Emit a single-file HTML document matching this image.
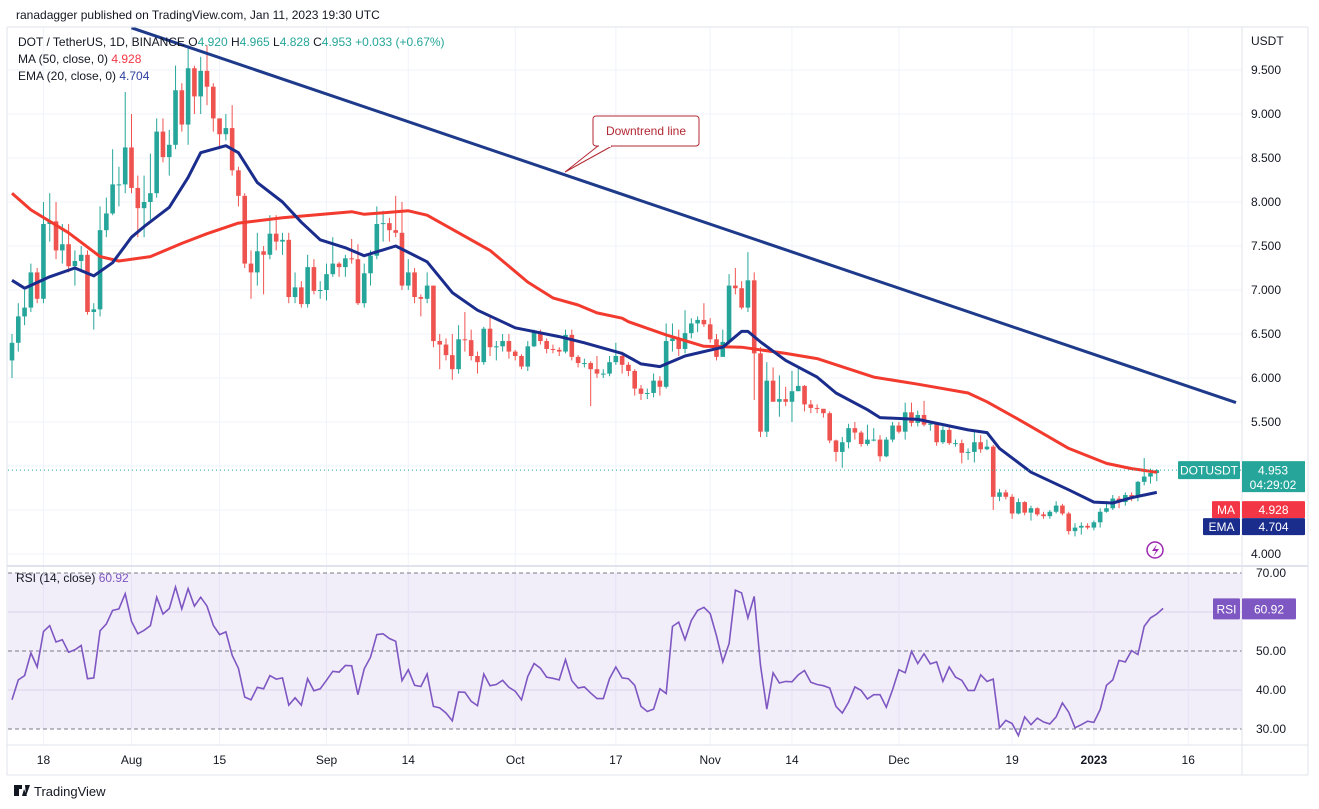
<!DOCTYPE html>
<html><head><meta charset="utf-8">
<style>
body{margin:0;background:#fff;font-family:"Liberation Sans",sans-serif;}
#wrap{position:relative;width:1319px;height:809px;overflow:hidden;background:#fff;}
svg text{font-family:"Liberation Sans",sans-serif;}
</style></head>
<body>
<div id="wrap">
<svg id="svg" width="1319" height="809" xmlns="http://www.w3.org/2000/svg">
  <rect x="0" y="0" width="1319" height="809" fill="#fff"/>
  <g id="grid"></g>
  <rect x="8" y="573" width="1234" height="156" fill="#7e57c2" fill-opacity="0.1"/>
  <g id="rsiGuides"></g>
  <g id="candles"></g>
  <g id="lines"></g>
  <g id="axes"></g>
  <line x1="7" y1="27" x2="1308" y2="27" stroke="#e0e3eb"/>
  <line x1="7" y1="27" x2="7" y2="775" stroke="#e0e3eb"/>
  <line x1="1308" y1="27" x2="1308" y2="775" stroke="#e0e3eb"/>
  <line x1="1242" y1="27" x2="1242" y2="775" stroke="#e0e3eb"/>
  <line x1="7" y1="566" x2="1308" y2="566" stroke="#e0e3eb" stroke-width="2"/>
  <line x1="7" y1="745" x2="1308" y2="745" stroke="#e0e3eb"/>
  <line x1="7" y1="775" x2="1308" y2="775" stroke="#e0e3eb"/>
  <text x="16" y="19" font-size="12" fill="#131722">ranadagger published on TradingView.com, Jan 11, 2023 19:30 UTC</text>
  <g>
    <text x="18" y="46" font-size="12" fill="#131722">DOT / TetherUS, 1D, BINANCE  <tspan fill="#131722">O</tspan><tspan fill="#26a69a">4.920</tspan>  <tspan fill="#131722">H</tspan><tspan fill="#26a69a">4.965</tspan>  <tspan fill="#131722">L</tspan><tspan fill="#26a69a">4.828</tspan>  <tspan fill="#131722">C</tspan><tspan fill="#26a69a">4.953 +0.033 (+0.67%)</tspan></text>
    <text x="18" y="63" font-size="12" fill="#131722">MA (50, close, 0)  <tspan fill="#f23645">4.928</tspan></text>
    <text x="18" y="80" font-size="12" fill="#131722">EMA (20, close, 0)  <tspan fill="#2c3e9e">4.704</tspan></text>
  </g>
  <text x="1251" y="45" font-size="12" fill="#131722">USDT</text>
  <text x="16" y="582" font-size="12" fill="#131722">RSI (14, close)  <tspan fill="#7e57c2">60.92</tspan></text>
  <g>
    <path d="M598,146 L565,172 L612,146" fill="#fff" stroke="#b22833" stroke-width="1"/>
    <rect x="593" y="116" width="106" height="30" rx="3" fill="#fff" stroke="#b22833"/>
    <line x1="599" y1="146" x2="611" y2="146" stroke="#fff" stroke-width="2"/>
    <text x="646" y="135" font-size="12" fill="#b22833" text-anchor="middle">Downtrend line</text>
  </g>
  <g>
    <circle cx="1155" cy="550" r="8" fill="#fff" stroke="#9c27b0" stroke-width="1.5"/>
    <path d="M1157,544 L1152,551 L1156,551 L1153,557 L1159,549 L1155,549 Z" fill="#9c27b0"/>
  </g>
  <g id="labels"></g>
  <g>
    <path d="M14,785 h8 v4 h-3 v7 h-5 z M24,789 l3,7 h-5 z M25,785 l5,0 l-4,11 z" fill="#131722"/>
    <text x="34" y="796" font-size="13" fill="#131722">TradingView</text>
  </g>
</svg>
</div>
<script>
const closes = [6.40,6.70,6.80,7.20,6.90,7.75,7.78,7.45,7.52,7.27,
7.33,7.40,6.75,6.78,7.68,7.87,8.20,8.20,8.62,8.16,
7.93,8.00,8.10,8.80,8.51,8.65,9.27,8.88,9.52,9.20,
9.49,9.31,8.95,8.77,8.84,8.36,8.07,7.30,7.20,7.44,
7.40,7.64,7.55,7.57,6.92,7.03,6.84,7.26,6.99,7.00,
7.18,7.30,7.26,7.36,7.35,6.85,7.19,7.39,7.75,7.76,
7.68,7.65,7.05,7.20,6.92,6.90,7.05,6.42,6.38,6.26,
6.10,6.44,6.43,6.25,6.18,6.56,6.35,6.36,6.42,6.30,
6.25,6.13,6.36,6.52,6.42,6.33,6.32,6.30,6.49,6.24,
6.17,6.17,6.10,6.05,6.05,6.18,6.25,6.15,6.08,5.88,
5.82,5.83,5.97,5.90,6.42,6.45,6.33,6.51,6.62,6.66,
6.61,6.44,6.24,6.41,7.05,7.02,6.80,7.11,6.28,5.39,
5.97,5.73,5.76,5.73,5.85,5.91,5.70,5.66,5.65,5.60,
5.29,5.16,5.27,5.43,5.38,5.25,5.30,5.30,5.11,5.30,
5.46,5.39,5.61,5.49,5.58,5.47,5.48,5.27,5.41,5.26,
5.26,5.15,5.16,5.27,5.19,5.22,4.65,4.70,4.65,4.46,
4.59,4.47,4.52,4.45,4.43,4.48,4.55,4.46,4.26,4.30,
4.32,4.30,4.36,4.48,4.52,4.63,4.59,4.67,4.65,4.82,
4.88,4.92,4.953];
const highs = [6.5,6.85,7.0,7.3,7.25,8.0,8.1,8.0,7.75,7.75,
7.45,7.5,7.45,6.85,7.95,8.05,8.6,8.4,9.25,9.0,
8.3,8.3,8.55,8.95,8.95,8.82,9.55,9.35,9.78,9.55,
9.65,9.78,9.35,8.95,9.0,9.1,8.4,8.1,7.45,7.65,
7.5,7.85,7.85,7.65,7.65,7.2,7.1,7.4,7.35,7.1,
7.3,7.6,7.32,7.4,7.58,7.52,7.3,7.45,7.95,7.9,
7.82,8.07,8.0,7.35,7.25,6.95,7.2,7.05,6.5,6.45,
6.5,6.6,6.75,6.55,6.3,6.58,6.7,6.42,6.5,6.5,
6.32,6.27,6.42,6.55,6.55,6.45,6.38,6.35,6.55,6.55,
6.26,6.22,6.19,6.25,6.1,6.25,6.4,6.3,6.18,6.1,
5.92,5.88,6.05,6.02,6.62,6.62,6.55,6.77,6.68,6.7,
6.85,6.68,6.5,6.55,7.18,7.25,7.1,7.43,7.2,6.35,
6.18,6.12,6.03,5.9,6.08,6.12,5.92,5.75,5.7,5.65,
5.62,5.3,5.33,5.48,5.5,5.4,5.47,5.43,5.35,5.33,
5.5,5.5,5.72,5.72,5.63,5.74,5.5,5.5,5.45,5.47,
5.3,5.3,5.2,5.4,5.35,5.3,5.24,4.74,4.73,4.68,
4.63,4.6,4.55,4.53,4.48,4.5,4.6,4.57,4.48,4.35,
4.36,4.35,4.38,4.52,4.6,4.67,4.66,4.7,4.7,4.83,
5.09,4.97,4.965];
const lows = [6.0,6.3,6.6,6.75,6.85,6.85,7.55,7.35,7.3,7.2,
7.05,7.2,6.72,6.55,6.7,7.6,7.85,7.95,8.1,8.1,
7.6,7.6,7.8,8.05,8.45,8.3,8.6,8.8,8.65,9.0,
9.0,9.1,8.8,8.6,8.7,8.3,7.95,7.25,6.9,7.05,
6.95,7.35,7.45,7.4,6.85,6.85,6.8,6.8,6.95,6.9,
6.88,7.15,7.15,7.15,7.3,6.83,6.8,7.05,7.35,7.55,
7.55,7.6,7.0,7.0,6.85,6.7,6.85,6.35,6.1,6.2,
5.98,6.05,6.3,6.2,6.05,6.15,6.25,6.2,6.3,6.22,
6.2,6.1,6.08,6.35,6.38,6.28,6.28,6.25,6.28,6.2,
6.12,6.12,5.68,6.0,6.0,6.02,6.15,6.05,6.02,5.8,
5.75,5.76,5.78,5.8,5.88,6.3,6.25,6.28,6.45,6.52,
6.58,6.4,6.2,6.28,6.38,6.95,6.78,6.75,5.75,5.33,
5.33,5.73,5.56,5.68,5.5,5.85,5.62,5.6,5.6,5.55,
5.26,5.05,4.98,5.2,5.3,5.22,5.23,5.28,5.05,5.1,
5.27,5.37,5.3,5.45,5.45,5.45,5.4,5.23,5.25,5.24,
5.22,5.03,5.07,5.04,5.15,5.18,4.5,4.6,4.62,4.4,
4.45,4.44,4.38,4.43,4.4,4.4,4.46,4.44,4.22,4.2,
4.22,4.28,4.27,4.3,4.47,4.5,4.52,4.55,4.6,4.6,
4.78,4.8,4.828];
const firstOpen = 6.20;
const emaPts = [[0,7.11],[2,7.02],[6,7.15],[10,7.25],[13,7.16],[16,7.31],[19,7.6],[21,7.72],[25,7.94],[28,8.28],[30,8.56],[34,8.64],[36,8.56],[39,8.22],[43,8.0],[46,7.77],[49,7.57],[53,7.48],[56,7.39],[61,7.5],[66,7.32],[70,6.97],[74,6.77],[80,6.57],[87,6.47],[91,6.4],[97,6.28],[100,6.16],[103,6.13],[107,6.25],[113,6.35],[116,6.53],[117,6.53],[119,6.41],[123,6.2],[128,6.01],[131,5.83],[136,5.64],[138,5.55],[144,5.53],[152,5.41],[155,5.38],[157,5.2],[162,4.93],[168,4.73],[172,4.59],[175,4.58],[178,4.64],[182,4.70]];
const maPts = [[0,8.10],[3,7.91],[9,7.65],[14,7.38],[17,7.33],[22,7.38],[27,7.53],[31,7.64],[36,7.76],[43,7.82],[54,7.89],[56,7.86],[63,7.9],[66,7.85],[71,7.65],[76,7.45],[82,7.09],[86,6.91],[90,6.83],[93,6.74],[97,6.68],[98,6.64],[104,6.49],[110,6.36],[116,6.35],[123,6.28],[128,6.22],[137,6.01],[144,5.93],[152,5.83],[155,5.73],[161,5.49],[168,5.2],[174,5.03],[178,4.97],[182,4.928]];
const trendPts = [[19,9.98],[194.6,5.72]];
const rsiVals = [37.5,42.6,43.7,49.5,45.9,55.0,56.5,52.3,52.9,49.7,
50.3,51.4,42.9,43.1,55.2,56.9,60.4,60.8,64.7,57.6,
54.4,55.3,56.5,63.8,59.5,60.9,66.4,60.8,66.0,61.5,
63.8,61.5,56.6,54.2,54.9,48.9,45.6,38.2,37.5,40.7,
40.3,43.7,42.8,43.1,36.1,38.0,36.1,42.9,39.8,40.3,
42.5,44.8,44.6,46.3,46.2,38.8,45.4,48.4,54.2,54.4,
53.2,52.5,42.4,45.2,41.2,40.9,44.1,35.8,35.4,34.1,
32.1,39.5,39.4,37.1,36.0,44.1,41.1,41.4,42.5,40.7,
39.7,37.5,43.5,46.8,45.6,43.3,43.0,42.6,47.8,42.4,
40.5,40.8,39.2,37.8,37.8,42.9,45.9,43.1,
42.9,41.2,35.8,34.5,35.1,40.3,39.1,56.3,57.4,52.9,
57.8,60.4,61.2,59.6,53.9,47.2,51.9,65.6,64.9,58.5,
64.0,46.3,35.1,44.4,41.8,42.2,42.1,43.9,45.0,42.0,
41.4,41.1,40.5,35.8,34.1,36.9,40.8,39.9,37.7,38.8,
38.8,35.6,40.1,45.2,44.4,49.9,46.8,49.3,46.7,47.2,
42.2,45.9,43.3,42.5,39.9,39.9,43.9,42.2,42.8,30.3,
32.2,31.4,28.3,33.1,31.1,32.8,31.8,31.3,33.1,36.7,
34.3,30.3,31.1,32.0,31.7,35.0,41.2,42.6,47.6,47.2,
50.1,49.1,56.3,58.5,59.5,60.92];
const priceTicks = [9.5,9.0,8.5,8.0,7.5,7.0,6.5,6.0,5.5,5.0,4.5,4.0];
const priceTickLabels = ["9.500","9.000","8.500","8.000","7.500","7.000","6.500","6.000","5.500","5.000","4.500","4.000"];
const rsiTicks = [70,50,40,30];
const rsiTickLabels = ["70.00","50.00","40.00","30.00"];
const dateIdx = [5,19,33,50,63,80,96,111,124,141,159,172,187];
const dateLabels = ["18","Aug","15","Sep","14","Oct","17","Nov","14","Dec","19","2023","16"];
const lastClose = 4.953, lastMA = 4.928, lastEMA = 4.704, lastRSI = 60.92;

const NS = "http://www.w3.org/2000/svg";
const X = i => 12 + i * 6.29;
const Y = p => 554 - (p - 4) * 88;
const RY = r => 729 - (r - 30) * 3.9;
function mk(tag, attrs, parent){const e=document.createElementNS(NS,tag);for(const k in attrs)e.setAttribute(k,attrs[k]);parent.appendChild(e);return e;}
const grid=document.getElementById('grid'), cg=document.getElementById('candles'), lg=document.getElementById('lines'), ax=document.getElementById('axes'), lb=document.getElementById('labels'), rg=document.getElementById('rsiGuides');

priceTicks.forEach((p,k)=>{
  const l=mk('line',{x1:8,x2:1242,y1:Y(p),y2:Y(p),stroke:'#f0f3fa'},grid);
  
  
  const t=mk('text',{x:1251,y:Y(p)+4,'font-size':12,fill:'#131722'},ax);
  t.textContent=priceTickLabels[k];
  
  
});
[60,40].forEach(r=>{
  const l=mk('line',{x1:8,x2:1242,y1:RY(r),y2:RY(r),stroke:'#e6e1f0'},grid);
  
  
});
dateIdx.forEach((d,k)=>{
  const l=mk('line',{x1:X(d),x2:X(d),y1:27,y2:745,stroke:'#f0f3fa'},grid);
  
  
  const t=mk('text',{x:X(d),y:764,'font-size':12,fill:'#131722','text-anchor':'middle','font-weight':dateLabels[k]==='2023'?'bold':'normal'},ax);
  t.textContent=dateLabels[k];
  
  
});
[70,50,30].forEach(r=>{
  const l=mk('line',{x1:8,x2:1242,y1:RY(r),y2:RY(r),stroke:'#787b86','stroke-dasharray':'4,3','stroke-width':1},rg);
  
  
});
rsiTicks.forEach((r,k)=>{
  const t=mk('text',{x:1256,y:RY(r)+4,'font-size':12,fill:'#131722'},ax);
  t.textContent=rsiTickLabels[k];
  
  
});

closes.forEach((c,i)=>{
  const o = i===0 ? firstOpen : closes[i-1];
  const up = c>=o, col = up?'#26a69a':'#ef5350';
  const g=mk('g',{},cg);
  
  
  mk('line',{x1:X(i),x2:X(i),y1:Y(highs[i]),y2:Y(lows[i]),stroke:col,'stroke-width':1},g);
  const top=Y(Math.max(o,c)), bot=Y(Math.min(o,c));
  mk('rect',{x:X(i)-2.3,y:top,width:4.6,height:Math.max(1,bot-top),fill:col},g);
});

function poly(pts,fy,fx){return pts.map(p=>fx(p[0]).toFixed(1)+','+fy(p[1]).toFixed(1)).join(' ');}
const ma=mk('polyline',{points:poly(maPts,Y,X),fill:'none',stroke:'#f23a2e','stroke-width':3,'stroke-linejoin':'round'},lg);


const ema=mk('polyline',{points:poly(emaPts,Y,X),fill:'none',stroke:'#1a2c8c','stroke-width':3,'stroke-linejoin':'round'},lg);


const tl=mk('polyline',{points:poly(trendPts,Y,X),fill:'none',stroke:'#1e3a8a','stroke-width':3},lg);


const rsiL=mk('polyline',{points:rsiVals.map((r,i)=>X(i).toFixed(1)+','+RY(r).toFixed(1)).join(' '),fill:'none',stroke:'#7e57c2','stroke-width':1.6},lg);


const pl=mk('line',{x1:8,x2:1242,y1:Y(lastClose),y2:Y(lastClose),stroke:'#26a69a','stroke-dasharray':'1,3'},lg);



function box(x,y,w,h,fill,txt){
  const g=mk('g',{},lb);
  mk('rect',{x:x,y:y,width:w,height:h,fill:fill,rx:1},g);
  const t=mk('text',{x:x+w/2,y:y+h/2+4.5,'font-size':12,fill:'#fff','text-anchor':'middle'},g);
  t.textContent=txt;
  return g;
}
const yc=Y(lastClose);
const b1=box(1178,yc-9,62,18,'#26a69a','DOTUSDT');


const b2g=mk('g',{},lb);


mk('rect',{x:1242,y:yc-9,width:63,height:31,fill:'#26a69a'},b2g);
const t1=mk('text',{x:1273,y:yc+4.5,'font-size':12,fill:'#fff','text-anchor':'middle'},b2g); t1.textContent=lastClose.toFixed(3);
const t2=mk('text',{x:1273,y:yc+19,'font-size':12,fill:'#fff','text-anchor':'middle'},b2g); t2.textContent='04:29:02';
const ym=yc+31;
const b3=box(1212,ym,28,17,'#f23645','MA');


const b4=box(1242,ym,63,17,'#f23645',lastMA.toFixed(3));


const ye=ym+17;
const b5=box(1203,ye,37,17,'#1a2c8c','EMA');


const b6=box(1242,ye,63,17,'#1a2c8c',lastEMA.toFixed(3));


const yr=RY(lastRSI);
const b7=box(1213,yr-10,27,21,'#7e57c2','RSI');


const b8=box(1242,yr-10,54,21,'#7e57c2',lastRSI.toFixed(2));


</script>
</body></html>
